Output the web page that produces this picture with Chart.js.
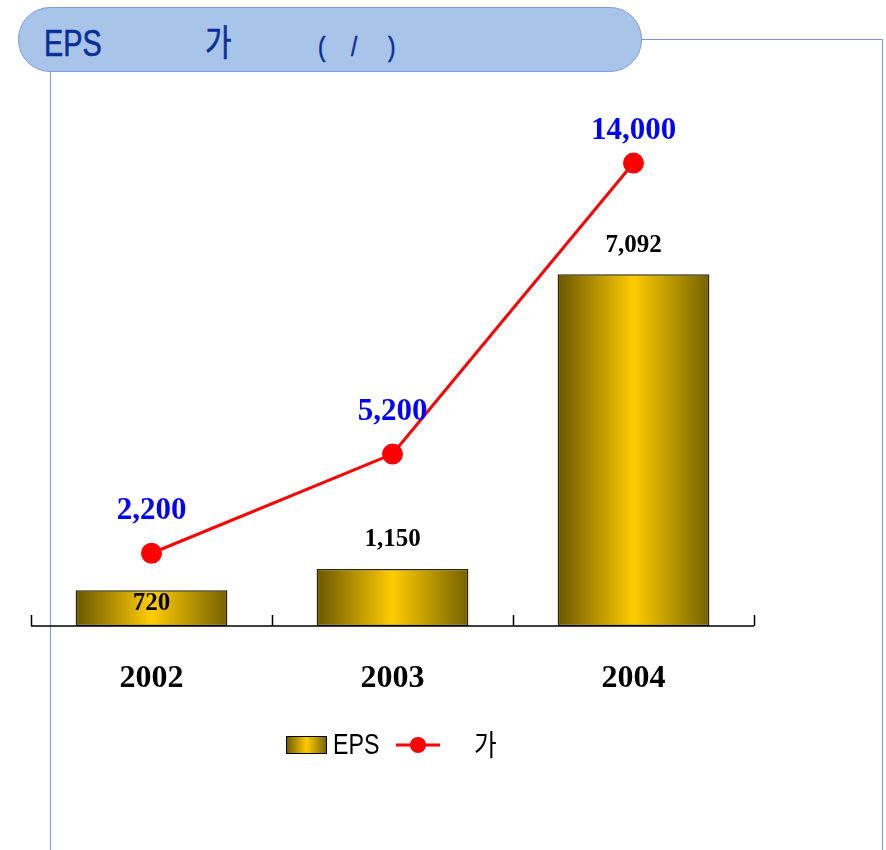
<!DOCTYPE html>
<html>
<head>
<meta charset="utf-8">
<script src="https://cdn.jsdelivr.net/npm/chart.js@4"></script>
<style>
  html, body { margin: 0; padding: 0; background: #fff; }
  #wrap { position: relative; width: 886px; height: 850px; overflow: hidden; }
  .ln { position: absolute; background: #7d9bd3; }
  #pill {
    position: absolute; left: 18px; top: 7px; width: 622px; height: 63px;
    background: #a8c4e9; border: 1px solid #7f9ed6; border-radius: 32px;
  }
  .tt {
    position: absolute; color: #0a2e98; top: 21px;
    font: 36px "Liberation Sans", "Noto Sans CJK KR", sans-serif; line-height: 46px;
    transform: scaleX(0.8); transform-origin: left center;
    -webkit-text-stroke: 0.6px #0a2e98;
  }
  .tt.sm { font-size: 28px; }
  canvas { position: absolute; left: 0; top: 0; }
</style>
</head>
<body>
<div id="wrap">
  <div class="ln" style="left:50px; top:70px; width:1px; height:780px;"></div>
  <div class="ln" style="left:640px; top:39px; width:243px; height:1px;"></div>
  <div class="ln" style="left:882px; top:39px; width:1px; height:811px;"></div>
  <div id="pill"></div>
  <div class="tt" style="left:44px;">EPS</div>
  <div class="tt" style="left:205px;">가</div>
  <div class="tt sm" style="left:318px; top:24px;">(</div>
  <div class="tt sm" style="left:351px; top:24px;">/</div>
  <div class="tt sm" style="left:388px; top:24px;">)</div>
  <canvas id="chart" width="886" height="850"></canvas>
</div>
<script>
// 데이터
const years = ['2002', '2003', '2004'];
const eps = [720, 1150, 7092];
const price = [2200, 5200, 14000];
const legendNames = ['EPS', '가'];

function goldGradient(ctx, x0, x1) {
  const g = ctx.createLinearGradient(x0, 0, x1, 0);
  g.addColorStop(0, '#6a5700');
  g.addColorStop(0.5, '#ffcc00');
  g.addColorStop(1, '#746200');
  return g;
}

const BAR_PCT = 0.63;

// 축, 라벨, 범례 그리기
const extras = {
  id: 'extras',
  afterDraw(chart) {
    const ctx = chart.ctx;
    const x = chart.scales.x;
    const area = chart.chartArea;
    ctx.save();
    // x축
    ctx.strokeStyle = '#000';
    ctx.lineWidth = 1.5;
    ctx.beginPath();
    ctx.moveTo(area.left, area.bottom);
    ctx.lineTo(area.right, area.bottom);
    const step = (area.right - area.left) / years.length;
    for (let i = 0; i <= years.length; i++) {
      const tx = Math.round(area.left + i * step) + 0.5;
      ctx.moveTo(tx, area.bottom);
      ctx.lineTo(tx, area.bottom - 11);
    }
    ctx.stroke();

    ctx.textAlign = 'center';
    ctx.textBaseline = 'middle';
    ctx.fillStyle = '#000';
    ctx.font = 'bold 32px "Liberation Serif", serif';
    years.forEach((y, i) => ctx.fillText(y, x.getPixelForValue(i), area.bottom + 53));

    // 막대 값
    const bars = chart.getDatasetMeta(1).data;
    ctx.font = 'bold 25px "Liberation Serif", serif';
    bars.forEach((b, i) => {
      const h = b.base - b.y;
      const ly = h < 45 ? b.y + 13 : b.y - 29;
      ctx.fillText(eps[i].toLocaleString('en-US'), b.x, ly);
    });

    // 선 값
    const pts = chart.getDatasetMeta(0).data;
    ctx.fillStyle = '#0000ff';
    ctx.font = 'bold 31px "Liberation Serif", serif';
    pts.forEach((p, i) => {
      const off = p.y < 200 ? 32 : 42;
      ctx.fillText(price[i].toLocaleString('en-US'), p.x, p.y - off);
    });

    // 범례
    const ly = 745;
    ctx.fillStyle = goldGradient(ctx, 286, 327);
    ctx.fillRect(286, ly - 9, 41, 18);
    ctx.strokeStyle = '#000';
    ctx.lineWidth = 1;
    ctx.strokeRect(286.5, ly - 8.5, 40, 17);
    ctx.fillStyle = '#000';
    ctx.textAlign = 'left';
    ctx.save();
    ctx.translate(333, ly + 1);
    ctx.scale(0.8, 1);
    ctx.font = '29px "Liberation Sans", sans-serif';
    ctx.fillText(legendNames[0], 0, 0);
    ctx.restore();
    ctx.strokeStyle = '#ff0000';
    ctx.lineWidth = 3;
    ctx.beginPath();
    ctx.moveTo(396, ly);
    ctx.lineTo(440, ly);
    ctx.stroke();
    ctx.fillStyle = '#ff0000';
    ctx.beginPath();
    ctx.arc(418, ly, 8, 0, Math.PI * 2);
    ctx.fill();
    ctx.fillStyle = '#000';
    ctx.save();
    ctx.translate(474, ly);
    ctx.scale(0.85, 1);
    ctx.font = '29px "Noto Sans CJK KR", sans-serif';
    ctx.fillText(legendNames[1], 0, 0);
    ctx.restore();
    ctx.restore();
  }
};

const chart = new Chart(document.getElementById('chart'), {
  data: {
    labels: years,
    datasets: [
      {
        type: 'line',
        label: legendNames[1],
        data: price,
        yAxisID: 'y2',
        order: 0,
        borderColor: '#ff0000',
        borderWidth: 3,
        pointRadius: 9,
        pointBackgroundColor: '#ff0000',
        pointBorderColor: '#ff0000',
        tension: 0
      },
      {
        type: 'bar',
        label: legendNames[0],
        data: eps,
        yAxisID: 'y',
        order: 1,
        barPercentage: BAR_PCT,
        categoryPercentage: 1,
        borderColor: '#2e2600',
        borderWidth: 1.5,
        borderSkipped: false,
        backgroundColor(c) {
          const ch = c.chart;
          const xs = ch.scales.x;
          if (!xs || !ch.chartArea) return '#c9a400';
          const cx = xs.getPixelForValue(c.dataIndex);
          const w = (ch.chartArea.right - ch.chartArea.left) / years.length * BAR_PCT;
          return goldGradient(ch.ctx, cx - w / 2, cx + w / 2);
        }
      }
    ]
  },
  options: {
    responsive: false,
    animation: false,
    layout: { padding: { left: 31, right: 132, top: 130, bottom: 224 } },
    scales: {
      x: { display: false, offset: true },
      y: { display: false, min: 0, max: 10000 },
      y2: { display: false, min: 0, max: 15000, position: 'right' }
    },
    plugins: {
      legend: { display: false },
      tooltip: { enabled: false }
    }
  },
  plugins: [extras]
});
</script>
</body>
</html>
